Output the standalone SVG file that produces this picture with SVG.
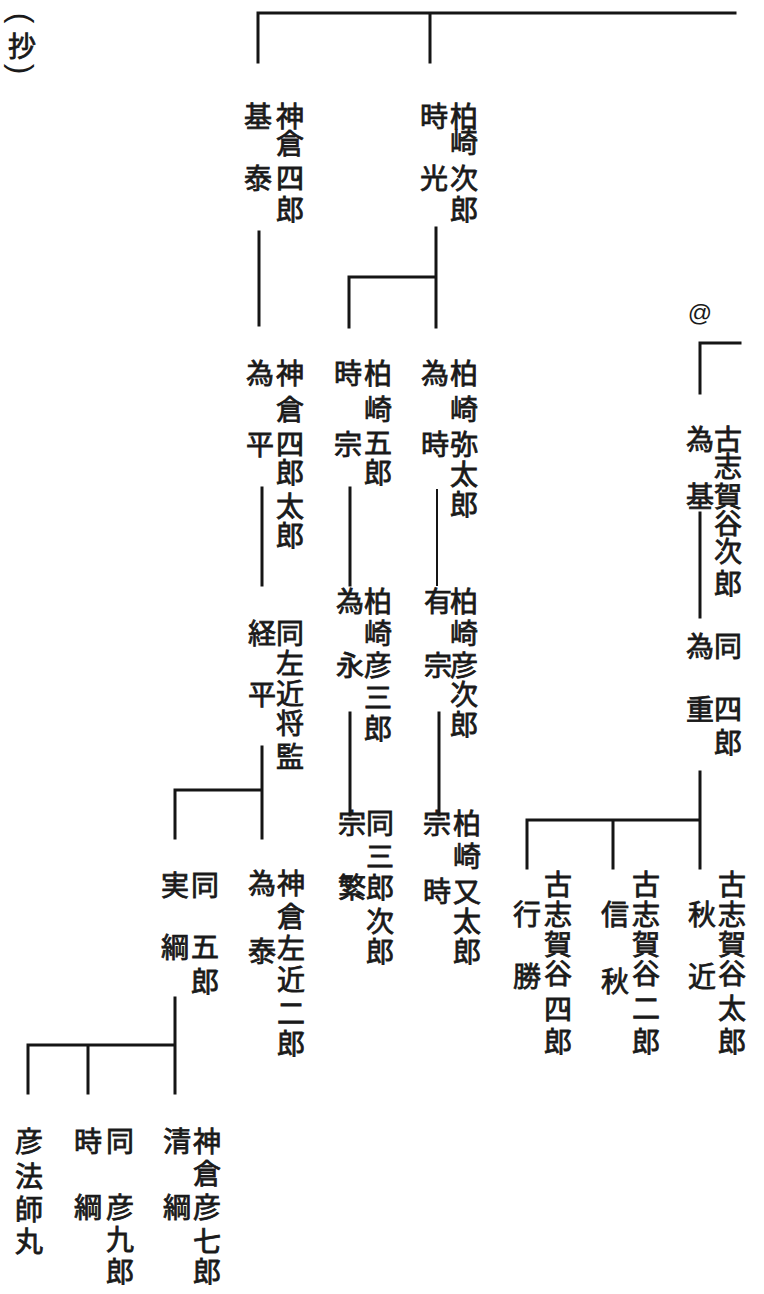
<svg xmlns="http://www.w3.org/2000/svg" width="764" height="1294" viewBox="0 0 764 1294">
<style>
.t{font-family:"Noto Sans CJK JP","Noto Sans CJK SC",sans-serif;font-size:28px;font-weight:400;fill:#1a1a1a;stroke:#1a1a1a;stroke-width:0.8px;text-anchor:middle;dominant-baseline:central;}
.p{font-family:"Liberation Sans",sans-serif;font-size:32px;fill:#1a1a1a;text-anchor:middle;dominant-baseline:central;}
.at{font-family:"Liberation Sans",sans-serif;font-size:24px;fill:#1a1a1a;text-anchor:middle;dominant-baseline:central;}
.c{stroke:#151515;stroke-width:3;fill:none;stroke-linecap:square;}
</style>
<rect width="764" height="1294" fill="#ffffff"/>
<g id="title"><text class="p" x="22" y="18" transform="rotate(90 22 18)">(</text><text class="t" x="22" y="45">抄</text><text class="p" x="22" y="69" transform="rotate(90 22 69)">)</text></g>
<g id="connectors">
<path class="c" d="M258,62 V13 H735 M430,13 V62"/>
<path class="c" d="M259,232 V325"/>
<path class="c" d="M436,228 V327 M349,327 V277 H436"/>
<path class="c" d="M262,488 V585"/>
<path class="c" d="M350,488 V585"/>
<path class="c" d="M437,490 V585" style="stroke-width:2"/>
<path class="c" d="M262,747 V838 M175,838 V790 H262"/>
<path class="c" d="M350,713 V815"/>
<path class="c" d="M439,713 V815"/>
<path class="c" d="M175,998 V1093 M28,1093 V1045 H175 M88,1045 V1093"/>
<path class="c" d="M740,343 H700 V393"/>
<path class="c" d="M700,513 V617"/>
<path class="c" d="M700,772 V868 M527,868 V820 H700 M613,820 V868"/>
</g>
<g id="n-kamikura-yasumoto"><text class="t"><tspan x="290" y="115">神</tspan><tspan x="290" y="142">倉</tspan><tspan x="290" y="177">四</tspan><tspan x="290" y="208">郎</tspan><tspan x="258" y="115">基</tspan><tspan x="258" y="177">泰</tspan></text></g>
<g id="n-kashiwazaki-tokimitsu"><text class="t"><tspan x="464" y="115">柏</tspan><tspan x="464" y="141">崎</tspan><tspan x="464" y="177">次</tspan><tspan x="464" y="208">郎</tspan><tspan x="434" y="115">時</tspan><tspan x="434" y="177">光</tspan></text></g>
<g id="n-kamikura-tamehira"><text class="t"><tspan x="290" y="372">神</tspan><tspan x="290" y="408">倉</tspan><tspan x="290" y="443">四</tspan><tspan x="290" y="471">郎</tspan><tspan x="290" y="505">太</tspan><tspan x="290" y="534">郎</tspan><tspan x="260" y="372">為</tspan><tspan x="260" y="443">平</tspan></text></g>
<g id="n-kashiwazaki-tokimune"><text class="t"><tspan x="378" y="372">柏</tspan><tspan x="378" y="408">崎</tspan><tspan x="378" y="441">五</tspan><tspan x="378" y="471">郎</tspan><tspan x="348" y="372">時</tspan><tspan x="348" y="443">宗</tspan></text></g>
<g id="n-kashiwazaki-tametoki"><text class="t"><tspan x="464" y="372">柏</tspan><tspan x="464" y="408">崎</tspan><tspan x="464" y="443">弥</tspan><tspan x="464" y="473">太</tspan><tspan x="464" y="503">郎</tspan><tspan x="435" y="372">為</tspan><tspan x="435" y="443">時</tspan></text></g>
<g id="n-onaji-tsunehira"><text class="t"><tspan x="290" y="632">同</tspan><tspan x="290" y="662">左</tspan><tspan x="290" y="692">近</tspan><tspan x="290" y="722">将</tspan><tspan x="290" y="755">監</tspan><tspan x="262" y="632">経</tspan><tspan x="262" y="693">平</tspan></text></g>
<g id="n-kashiwazaki-tamenaga"><text class="t"><tspan x="378" y="600">柏</tspan><tspan x="378" y="632">崎</tspan><tspan x="378" y="664">彦</tspan><tspan x="378" y="696">三</tspan><tspan x="378" y="727">郎</tspan><tspan x="350" y="600">為</tspan><tspan x="350" y="664">永</tspan></text></g>
<g id="n-kashiwazaki-arimune"><text class="t"><tspan x="464" y="600">柏</tspan><tspan x="464" y="632">崎</tspan><tspan x="464" y="664">彦</tspan><tspan x="464" y="693">次</tspan><tspan x="464" y="723">郎</tspan><tspan x="438" y="600">有</tspan><tspan x="438" y="664">宗</tspan></text></g>
<g id="n-onaji-saburojiro"><text class="t"><tspan x="380" y="822">同</tspan><tspan x="380" y="855">三</tspan><tspan x="380" y="886">郎</tspan><tspan x="380" y="920">次</tspan><tspan x="380" y="950">郎</tspan><tspan x="352" y="822">宗</tspan><tspan x="352" y="886">繁</tspan></text></g>
<g id="n-kashiwazaki-munetoki"><text class="t"><tspan x="467" y="822">柏</tspan><tspan x="467" y="855">崎</tspan><tspan x="467" y="890">又</tspan><tspan x="467" y="920">太</tspan><tspan x="467" y="950">郎</tspan><tspan x="437" y="822">宗</tspan><tspan x="437" y="890">時</tspan></text></g>
<g id="n-kamikura-tameyasu"><text class="t"><tspan x="291" y="882">神</tspan><tspan x="291" y="915">倉</tspan><tspan x="291" y="947">左</tspan><tspan x="291" y="978">近</tspan><tspan x="291" y="1012">二</tspan><tspan x="291" y="1042">郎</tspan><tspan x="262" y="882">為</tspan><tspan x="262" y="950">泰</tspan></text></g>
<g id="n-onaji-sanetsuna"><text class="t"><tspan x="205" y="884">同</tspan><tspan x="205" y="945">五</tspan><tspan x="205" y="980">郎</tspan><tspan x="175" y="884">実</tspan><tspan x="175" y="946">綱</tspan></text></g>
<g id="n-kamikura-kiyotsuna"><text class="t"><tspan x="207" y="1140">神</tspan><tspan x="207" y="1172">倉</tspan><tspan x="207" y="1206">彦</tspan><tspan x="207" y="1240">七</tspan><tspan x="207" y="1270">郎</tspan><tspan x="177" y="1140">清</tspan><tspan x="177" y="1206">綱</tspan></text></g>
<g id="n-onaji-tokitsuna"><text class="t"><tspan x="120" y="1140">同</tspan><tspan x="120" y="1206">彦</tspan><tspan x="120" y="1238">九</tspan><tspan x="120" y="1270">郎</tspan><tspan x="88" y="1140">時</tspan><tspan x="88" y="1206">綱</tspan></text></g>
<g id="n-hikohoshimaru"><text class="t"><tspan x="29" y="1140">彦</tspan><tspan x="29" y="1175">法</tspan><tspan x="29" y="1208">師</tspan><tspan x="29" y="1240">丸</tspan></text></g>
<g id="mark-at"><text class="at" x="700" y="312">@</text></g>
<g id="n-koshigaya-tamemoto"><text class="t"><tspan x="728" y="438">古</tspan><tspan x="728" y="465">志</tspan><tspan x="728" y="495">賀</tspan><tspan x="728" y="522">谷</tspan><tspan x="728" y="550">次</tspan><tspan x="728" y="582">郎</tspan><tspan x="700" y="438">為</tspan><tspan x="700" y="495">基</tspan></text></g>
<g id="n-onaji-tameshige"><text class="t"><tspan x="728" y="645">同</tspan><tspan x="728" y="708">四</tspan><tspan x="728" y="741">郎</tspan><tspan x="700" y="645">為</tspan><tspan x="700" y="708">重</tspan></text></g>
<g id="n-koshigaya-akichika"><text class="t"><tspan x="732" y="883">古</tspan><tspan x="732" y="913">志</tspan><tspan x="732" y="943">賀</tspan><tspan x="732" y="972">谷</tspan><tspan x="732" y="1007">太</tspan><tspan x="732" y="1040">郎</tspan><tspan x="702" y="913">秋</tspan><tspan x="702" y="975">近</tspan></text></g>
<g id="n-koshigaya-nobuaki"><text class="t"><tspan x="646" y="883">古</tspan><tspan x="646" y="913">志</tspan><tspan x="646" y="943">賀</tspan><tspan x="646" y="972">谷</tspan><tspan x="646" y="1007">二</tspan><tspan x="646" y="1040">郎</tspan><tspan x="615" y="913">信</tspan><tspan x="615" y="980">秋</tspan></text></g>
<g id="n-koshigaya-yukikatsu"><text class="t"><tspan x="558" y="883">古</tspan><tspan x="558" y="913">志</tspan><tspan x="558" y="943">賀</tspan><tspan x="558" y="972">谷</tspan><tspan x="558" y="1008">四</tspan><tspan x="558" y="1040">郎</tspan><tspan x="527" y="913">行</tspan><tspan x="527" y="975">勝</tspan></text></g>
</svg>
